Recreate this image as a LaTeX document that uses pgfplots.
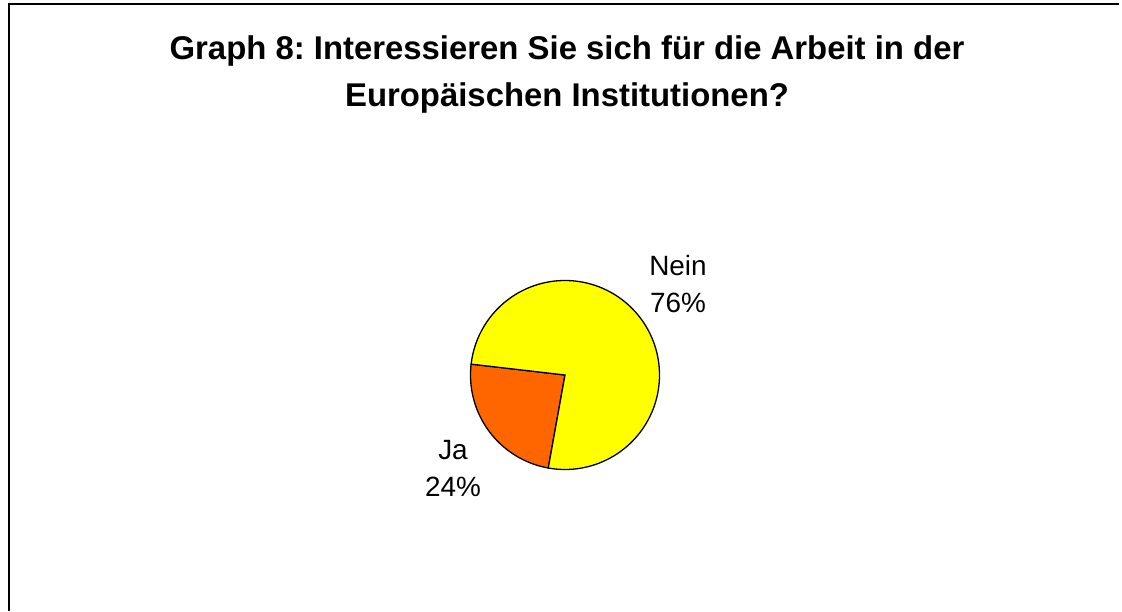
\documentclass[border=0pt]{standalone}
\usepackage{fontspec}
\setmainfont{Liberation Sans}
\usepackage{pgfplots}
\pgfplotsset{compat=1.18}
\definecolor{nein}{HTML}{FFFF00}
\definecolor{ja}{HTML}{FF6600}

% pie data (percent)
\def\valJa{24}
\def\valNein{76}
\def\startang{173.4}
\def\cx{565}
\def\cy{236}
\def\rr{94.5}

\begin{document}
\frenchspacing
\begin{tikzpicture}
\pgfmathsetmacro{\jaend}{\startang+3.6*\valJa}
\pgfmathsetmacro{\neinend}{\jaend+3.6*\valNein}
\begin{axis}[
    width=1122bp, height=611bp,
    scale only axis,
    xmin=0, xmax=1122, ymin=0, ymax=611,
    hide axis,
    clip=false,
]
% Ja slice
\addplot[fill=ja, draw=black, line width=1.3bp, domain=\startang:\jaend, samples=80, variable=\t]
    ({\cx+\rr*cos(\t)}, {\cy+\rr*sin(\t)}) -- (axis cs:\cx,\cy) -- cycle;
% Nein slice
\addplot[fill=nein, draw=black, line width=1.3bp, domain=\jaend:\neinend, samples=200, variable=\t]
    ({\cx+\rr*cos(\t)}, {\cy+\rr*sin(\t)}) -- (axis cs:\cx,\cy) -- cycle;

% title
\node[anchor=base, font=\fontsize{33}{40}\selectfont\bfseries] at (axis cs:567,551) {Graph 8: Interessieren Sie sich für die Arbeit in der};
\node[anchor=base, font=\fontsize{33}{40}\selectfont\bfseries] at (axis cs:567,504) {Europäischen Institutionen?};

% labels
\node[anchor=base, font=\fontsize{28}{34}\selectfont] at (axis cs:678,335) {Nein};
\node[anchor=base, font=\fontsize{28}{34}\selectfont] at (axis cs:678,298) {76\%};
\node[anchor=base, font=\fontsize{28}{34}\selectfont] at (axis cs:453,152) {Ja};
\node[anchor=base, font=\fontsize{28}{34}\selectfont] at (axis cs:453,115) {24\%};

% frame (left and top edges visible)
\fill[black] (axis cs:7.5,0) rectangle (axis cs:9.5,607.5);
\fill[black] (axis cs:7.5,605.5) rectangle (axis cs:1119,607.5);
\path[use as bounding box] (axis cs:0,0) rectangle (axis cs:1122,611);
\end{axis}
\end{tikzpicture}
\end{document}
